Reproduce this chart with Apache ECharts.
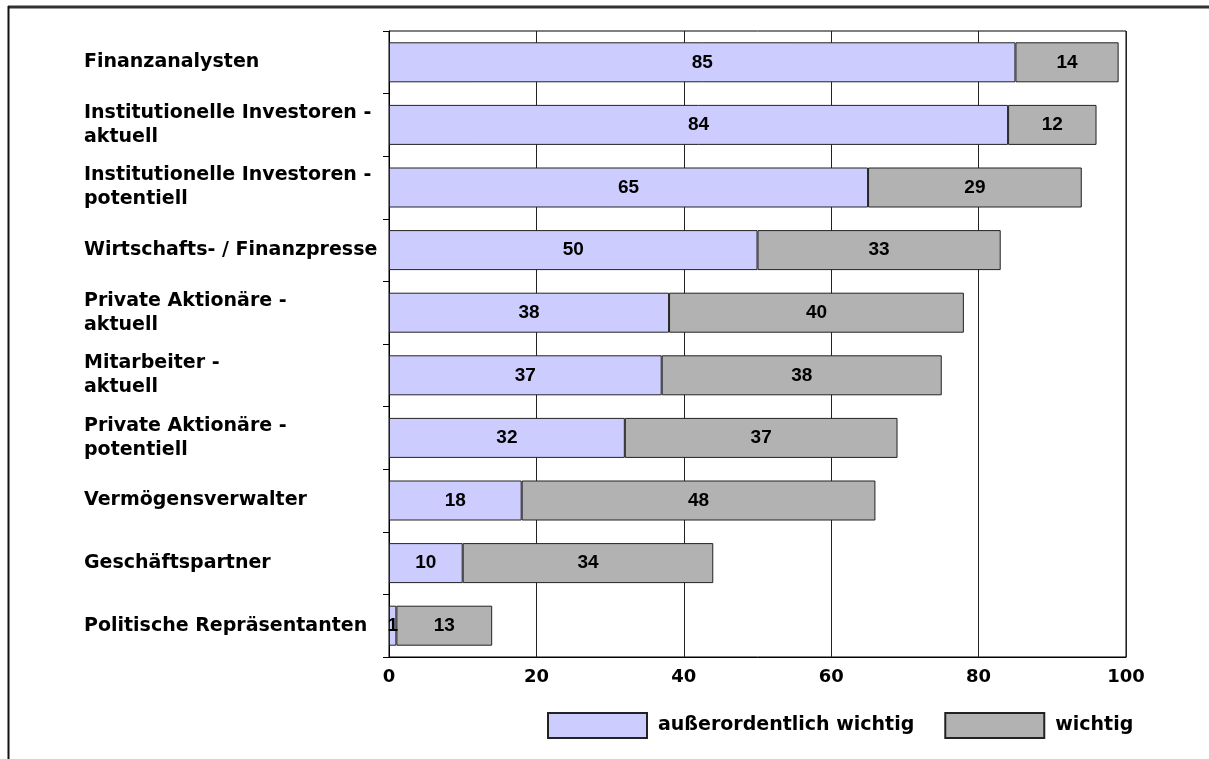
<!DOCTYPE html>
<html>
<head>
<meta charset="utf-8">
<script src="https://cdn.jsdelivr.net/npm/echarts@6/dist/echarts.min.js"></script>
<style>
  html, body { margin: 0; padding: 0; background: #fff; }
  #chart { width: 1209px; height: 759px; }
</style>
</head>
<body>
<div id="chart"></div>
<script>
// Zielgruppen, von oben nach unten
const categories = [
  'Finanzanalysten',
  'Institutionelle Investoren -\naktuell',
  'Institutionelle Investoren -\npotentiell',
  'Wirtschafts- / Finanzpresse',
  'Private Aktionäre -\naktuell',
  'Mitarbeiter -\naktuell',
  'Private Aktionäre -\npotentiell',
  'Vermögensverwalter',
  'Geschäftspartner',
  'Politische Repräsentanten'
];
const seriesNames = ['außerordentlich wichtig', 'wichtig'];
// Anteile in Prozent
const ausserordentlichWichtig = [85, 84, 65, 50, 38, 37, 32, 18, 10, 1];
const wichtig = [14, 12, 29, 33, 40, 38, 37, 48, 34, 13];
const xTicks = [0, 20, 40, 60, 80, 100];

const axisFont = 'DejaVu Sans';
const valueFont = "'Liberation Sans Narrow', 'Liberation Sans', sans-serif";

const chart = echarts.init(document.getElementById('chart'), null, { renderer: 'canvas' });

const barLabel = {
  show: true,
  position: 'inside',
  color: '#000',
  fontFamily: valueFont,
  fontWeight: 'bold',
  fontSize: 19,
  formatter: p => String(p.value)
};

chart.setOption({
  animation: false,
  backgroundColor: '#fff',
  grid: {
    left: 389, right: 83, top: 31, bottom: 102,
    show: true, borderColor: '#000', borderWidth: 1, backgroundColor: 'transparent'
  },
  legend: {
    data: seriesNames,
    left: 547, top: 712, padding: 0,
    itemWidth: 99, itemHeight: 25, itemGap: 30,
    icon: 'rect',
    textStyle: {
      fontFamily: axisFont, fontWeight: 'bold', fontSize: 19, color: '#000',
      padding: [0, 0, 0, 6]
    }
  },
  xAxis: {
    type: 'value',
    min: xTicks[0], max: xTicks[xTicks.length - 1], interval: 20,
    axisLine: { show: true, lineStyle: { color: '#000', width: 1 } },
    axisTick: { show: false },
    splitLine: { show: true, lineStyle: { color: '#222', width: 1 } },
    axisLabel: {
      margin: 11,
      fontFamily: axisFont, fontWeight: 'bold', fontSize: 18, color: '#000'
    }
  },
  yAxis: {
    type: 'category',
    data: categories,
    inverse: true,
    axisLine: { show: true, lineStyle: { color: '#000', width: 1 } },
    axisTick: { show: true, length: 6, lineStyle: { color: '#000' } },
    axisLabel: {
      align: 'left',
      margin: 305,
      fontFamily: axisFont, fontWeight: 'bold', fontSize: 19, color: '#000',
      lineHeight: 24
    }
  },
  series: [
    {
      name: seriesNames[0],
      type: 'bar',
      stack: 'total',
      barWidth: 40,
      data: ausserordentlichWichtig,
      itemStyle: { color: '#CCCCFF', borderColor: '#222', borderWidth: 1 },
      label: barLabel
    },
    {
      name: seriesNames[1],
      type: 'bar',
      stack: 'total',
      barWidth: 40,
      data: wichtig,
      itemStyle: { color: '#B2B2B2', borderColor: '#222', borderWidth: 1 },
      label: barLabel
    }
  ],
  graphic: [
    { type: 'line', shape: { x1: 8, y1: 7, x2: 1209, y2: 7 }, style: { stroke: '#333', lineWidth: 3 } },
    { type: 'line', shape: { x1: 8.5, y1: 6, x2: 8.5, y2: 759 }, style: { stroke: '#111', lineWidth: 2 } }
  ]
});
</script>
</body>
</html>
